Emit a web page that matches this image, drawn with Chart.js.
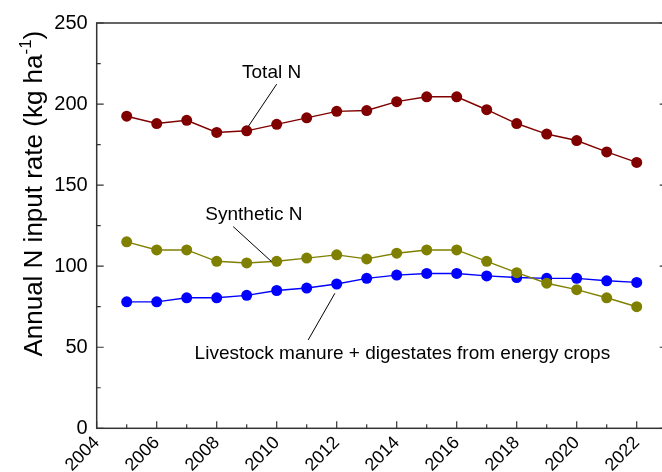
<!DOCTYPE html>
<html>
<head>
<meta charset="utf-8">
<script src="https://cdn.jsdelivr.net/npm/chart.js@4/dist/chart.umd.min.js"></script>
<style>
  html, body { margin: 0; padding: 0; background: #fff; overflow: hidden; }
  #wrap { width: 662px; height: 472px; overflow: hidden; position: relative; }
  canvas { display: block; }
</style>
</head>
<body>
<div id="wrap"><canvas id="c" width="680" height="472"></canvas></div>
<script>
// Annual nitrogen input rates (kg N per ha), 2005-2022
const years      = [2005, 2006, 2007, 2008, 2009, 2010, 2011, 2012, 2013, 2014, 2015, 2016, 2017, 2018, 2019, 2020, 2021, 2022];
const totalN     = [192.5, 188, 190, 182.5, 183.5, 187.5, 191.5, 195.5, 196, 201.5, 204.5, 204.5, 196.5, 188, 181.5, 177.5, 170.5, 164];
const syntheticN = [115, 110, 110, 103, 102, 103, 105, 107, 104.5, 108, 110, 110, 103, 96, 89.5, 85.5, 80.5, 75];
const manureN    = [78, 78, 80.5, 80.5, 82, 85, 86.5, 89, 92.5, 94.5, 95.5, 95.5, 94, 93, 92.5, 92.5, 91, 90];

const xTickValues = [2004, 2006, 2008, 2010, 2012, 2014, 2016, 2018, 2020, 2022];
const xMinorValues = [2005, 2007, 2009, 2011, 2013, 2015, 2017, 2019, 2021, 2023];
const yTickValues = [0, 50, 100, 150, 200, 250];
const yMinorValues = [25, 75, 125, 175, 225];

const seriesNames  = ['Total N', 'Synthetic N', 'Livestock manure + digestates from energy crops'];
const seriesColors = ['#800000', '#808000', '#0000ff'];

// Callout labels: text centre and leader line, in axis units (year, kg/ha)
const calloutText  = ['Total N', 'Synthetic N', 'Livestock manure + digestates from energy crops'];
const calloutAt    = [[2009.83, 219], [2009.24, 131.6], [2014.19, 45.8]];
const leaderFrom   = [[2010.0, 212.3], [2008.55, 124.4], [2011.94, 83.3]];
const leaderTo     = [[2009.05, 186.1], [2009.83, 102.8], [2011.05, 54.5]];

const FONT = '"Liberation Sans", Arial, sans-serif';

const toPoints = vals => years.map((y, i) => ({ x: y, y: vals[i] }));

const frameAndTicks = {
  id: 'frameAndTicks',
  beforeDraw(chart) {
    const { ctx } = chart;
    ctx.save();
    ctx.fillStyle = '#fff';
    ctx.fillRect(0, 0, chart.width, chart.height);
    ctx.restore();
  },
  beforeDatasetsDraw(chart) {
    const { ctx, chartArea: a, scales: { x, y } } = chart;
    ctx.save();
    ctx.strokeStyle = '#333';
    ctx.lineWidth = 1.5;
    ctx.strokeRect(a.left, a.top, a.right - a.left, a.bottom - a.top);
    ctx.lineWidth = 1.2;
    ctx.beginPath();
    const tickX = (v, len) => { const p = x.getPixelForValue(v); ctx.moveTo(p, a.bottom); ctx.lineTo(p, a.bottom - len); };
    const tickY = (v, len) => {
      const p = y.getPixelForValue(v);
      ctx.moveTo(a.left, p); ctx.lineTo(a.left + len, p);
      ctx.moveTo(a.right, p); ctx.lineTo(a.right - len, p);
    };
    xTickValues.forEach(v => tickX(v, 7));
    xMinorValues.forEach(v => tickX(v, 4));
    yTickValues.forEach(v => tickY(v, 7));
    yMinorValues.forEach(v => tickY(v, 4));
    ctx.stroke();
    ctx.restore();
  },
  afterDatasetsDraw(chart) {
    const { ctx, scales: { x, y } } = chart;
    ctx.save();
    ctx.strokeStyle = '#000';
    ctx.lineWidth = 1;
    ctx.fillStyle = '#000';
    ctx.font = '19px ' + FONT;
    ctx.textAlign = 'center';
    ctx.textBaseline = 'middle';
    calloutText.forEach((t, i) => {
      ctx.beginPath();
      ctx.moveTo(x.getPixelForValue(leaderFrom[i][0]), y.getPixelForValue(leaderFrom[i][1]));
      ctx.lineTo(x.getPixelForValue(leaderTo[i][0]), y.getPixelForValue(leaderTo[i][1]));
      ctx.stroke();
      ctx.fillText(t, x.getPixelForValue(calloutAt[i][0]), y.getPixelForValue(calloutAt[i][1]));
    });
    ctx.restore();
  },
  afterDraw(chart) {
    // Rotated y-axis title with a superscript exponent
    const { ctx, chartArea: a } = chart;
    const main = 'Annual N input rate (kg ha';
    const sup = '-1';
    const tail = ')';
    const big = '26px ' + FONT, small = '17px ' + FONT;
    ctx.save();
    ctx.font = big; const w1 = ctx.measureText(main).width; const w3 = ctx.measureText(tail).width;
    ctx.font = small; const w2 = ctx.measureText(sup).width;
    const total = w1 + w2 + w3;
    ctx.translate(33, (a.top + a.bottom) / 2 - 32);
    ctx.rotate(-Math.PI / 2);
    ctx.fillStyle = '#000';
    ctx.textBaseline = 'alphabetic';
    ctx.textAlign = 'left';
    let sx = -total / 2;
    ctx.font = big; ctx.fillText(main, sx, 9); sx += w1;
    ctx.font = small; ctx.fillText(sup, sx, -2); sx += w2;
    ctx.font = big; ctx.fillText(tail, sx, 9);
    ctx.restore();
  }
};

new Chart(document.getElementById('c'), {
  type: 'line',
  data: {
    datasets: [totalN, syntheticN, manureN].map((vals, i) => ({
      label: seriesNames[i],
      data: toPoints(vals),
      borderColor: seriesColors[i],
      backgroundColor: seriesColors[i],
      pointBackgroundColor: seriesColors[i],
      pointBorderColor: seriesColors[i],
      pointRadius: 5.5,
      pointBorderWidth: 0,
      borderWidth: 1.4,
      tension: 0
    }))
  },
  options: {
    responsive: false,
    animation: false,
    events: [],
    layout: { padding: { top: 23, right: 13.3, left: 0, bottom: 0 } },
    plugins: { legend: { display: false }, tooltip: { enabled: false } },
    scales: {
      x: {
        type: 'linear',
        min: 2004, max: 2023,
        grid: { display: false, drawTicks: false },
        border: { display: false },
        afterBuildTicks: s => { s.ticks = xTickValues.map(v => ({ value: v })); },
        afterFit: s => { s.height = 43.7; },
        ticks: {
          color: '#000', font: { family: FONT, size: 18 },
          minRotation: 45, maxRotation: 45, padding: 4,
          callback: v => String(v)
        }
      },
      y: {
        min: 0, max: 250,
        grid: { display: false, drawTicks: false },
        border: { display: false },
        afterBuildTicks: s => { s.ticks = yTickValues.map(v => ({ value: v })); },
        afterFit: s => { s.width = 96.7; },
        ticks: { color: '#000', font: { family: FONT, size: 20 }, padding: 9 }
      }
    }
  },
  plugins: [frameAndTicks]
});
</script>
</body>
</html>
